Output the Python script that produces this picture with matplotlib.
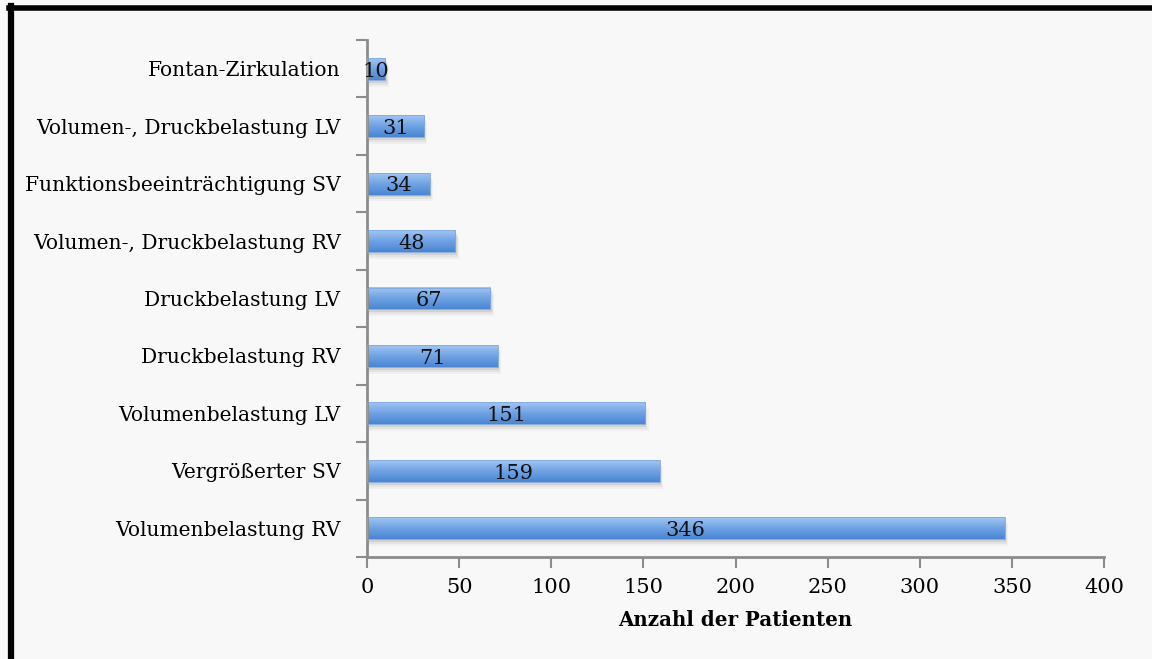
import matplotlib.pyplot as plt
import numpy as np
from matplotlib.colors import LinearSegmentedColormap
from matplotlib.patches import Rectangle

categories = [
    "Volumenbelastung RV",
    "Vergrößerter SV",
    "Volumenbelastung LV",
    "Druckbelastung RV",
    "Druckbelastung LV",
    "Volumen-, Druckbelastung RV",
    "Funktionsbeeinträchtigung SV",
    "Volumen-, Druckbelastung LV",
    "Fontan-Zirkulation",
]
patients = [346, 159, 151, 71, 67, 48, 34, 31, 10]
xticks = [0, 50, 100, 150, 200, 250, 300, 350, 400]

plt.rcParams['font.family'] = ['DejaVu Serif']
bg = '#f8f8f8'
axis_col = '#8c8c8c'

fig = plt.figure(figsize=(11.52, 6.59), dpi=100, facecolor=bg)
ax = fig.add_axes([367 / 1152, 1 - 557 / 659, (1104 - 367) / 1152, (557 - 40) / 659])
ax.set_facecolor(bg)

y = np.arange(len(categories))
h = 0.38
grad = LinearSegmentedColormap.from_list('bar', ['#4a86d2', '#6fa2e4', '#a2c6f2'])
g = np.linspace(0, 1, 64).reshape(-1, 1)

for yi, v in zip(y, patients):
    # soft shadow under each bar
    for k, a in enumerate([0.12, 0.08, 0.05]):
        off = 0.05 + 0.035 * k
        ax.barh(yi - off, v + 0.6 * (k + 1), height=h, left=0, color='#555555',
                alpha=a, linewidth=0, zorder=1)
    ax.imshow(g, extent=(0, v, yi - h / 2, yi + h / 2), cmap=grad, aspect='auto',
              origin='lower', zorder=2, interpolation='bilinear')
    ax.add_patch(Rectangle((0, yi - h / 2), v, h, fill=False, edgecolor='#7fa9df',
                           linewidth=0.6, zorder=3))
    ax.text(v / 2, yi - 0.04, str(v), ha='center', va='center', fontsize=15,
            color='#111111', zorder=4)

ax.set_xlim(0, 400)
ax.set_ylim(-0.5, len(categories) - 0.5)
ax.set_xticks(xticks)
ax.set_xticklabels([str(t) for t in xticks], fontsize=15)
ax.set_yticks(y)
ax.set_yticklabels(categories, fontsize=14.6)
ax.set_yticks(np.arange(-0.5, len(categories), 1.0), minor=True)
ax.tick_params(axis='y', which='major', length=0, pad=19)
ax.tick_params(axis='y', which='minor', length=8, width=1.5, color=axis_col)
ax.tick_params(axis='x', length=8, width=1.5, color=axis_col, pad=7)

for side in ['top', 'right']:
    ax.spines[side].set_visible(False)
for side in ['left', 'bottom']:
    ax.spines[side].set_color(axis_col)
    ax.spines[side].set_linewidth(2)

ax.set_xlabel('Anzahl der Patienten', fontsize=14.3, fontweight='bold')
ax.xaxis.set_label_coords(0.5, -0.103)

# page frame on the top and left edges
fig.add_artist(plt.Line2D([9 / 1152, 1], [1 - 8 / 659, 1 - 8 / 659], color='black',
                          linewidth=4, transform=fig.transFigure))
fig.add_artist(plt.Line2D([10.5 / 1152, 10.5 / 1152], [0, 1 - 6 / 659], color='black',
                          linewidth=4.5, transform=fig.transFigure))

fig.savefig('out.png', dpi=100, facecolor=bg)
